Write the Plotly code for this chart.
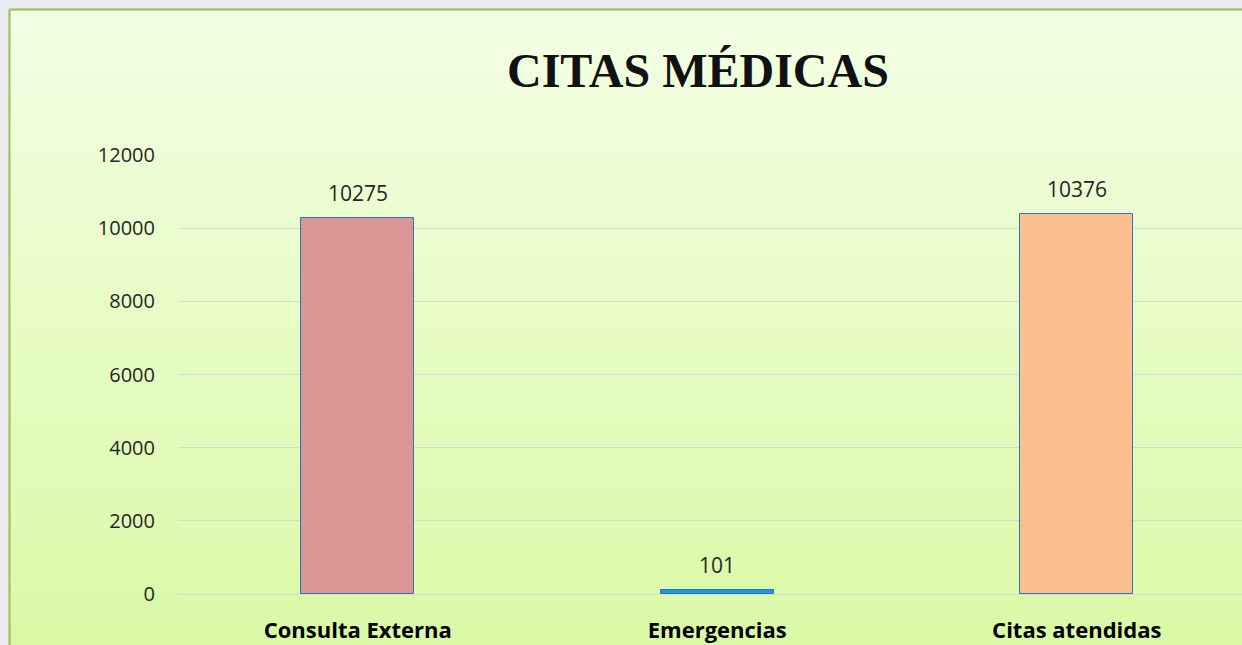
import plotly.graph_objects as go

categories = ["Consulta Externa", "Emergencias", "Citas atendidas"]
values = [10275, 101, 10376]
bar_colors = ["#d99694", "#1a9ae6", "#fac090"]
y_ticks = [0, 2000, 4000, 6000, 8000, 10000, 12000]
title_text = "CITAS MÉDICAS"

W, H = 1242, 645
L, R, T, B = 178, 0, 155, 51
pw, ph = W - L - R, H - T - B

def px_x(p):
    return (p - L) / pw

def px_y(p):
    return (H - B - p) / ph

fig = go.Figure()
fig.add_trace(go.Bar(
    x=categories, y=values,
    marker=dict(color=bar_colors, line=dict(color="#2e75b6", width=1)),
    width=0.314,
))

shapes = []
top_c = (0xf3, 0xff, 0xe4)
bot_c = (0xda, 0xf9, 0xa6)
y0p, y1p = 9, H
n = 60
for i in range(n):
    a = y0p + (y1p - y0p) * i / n
    b = y0p + (y1p - y0p) * (i + 1) / n + 1
    t = i / (n - 1)
    c = tuple(round(top_c[k] + (bot_c[k] - top_c[k]) * t) for k in range(3))
    shapes.append(dict(type="rect", xref="paper", yref="paper",
                       x0=px_x(9), x1=px_x(W + 5), y0=px_y(b), y1=px_y(a),
                       fillcolor="rgb(%d,%d,%d)" % c, line=dict(width=0), layer="below"))
shapes.append(dict(type="line", xref="paper", yref="paper", x0=px_x(9.5), x1=px_x(W + 5),
                   y0=px_y(9.5), y1=px_y(9.5), line=dict(color="#9bbb59", width=2), layer="below"))
shapes.append(dict(type="line", xref="paper", yref="paper", x0=px_x(9.5), x1=px_x(9.5),
                   y0=px_y(9.5), y1=px_y(H + 5), line=dict(color="#9bbb59", width=2), layer="below"))

annotations = []
for c, v in zip(categories, values):
    annotations.append(dict(x=c, y=v, xref="x", yref="y", text=str(v), showarrow=False,
                            yshift=25, font=dict(family="Open Sans, Noto Sans, sans-serif", size=21, color="#262626")))
annotations.append(dict(x=px_x(698), y=px_y(70), xref="paper", yref="paper", text="<b>%s</b>" % title_text,
                        showarrow=False, xanchor="center", yanchor="middle",
                        font=dict(family="Liberation Serif, serif", size=48, color="#111111")))

fig.update_layout(
    width=W, height=H,
    margin=dict(l=L, r=R, t=T, b=B, pad=0),
    paper_bgcolor="#ebebee",
    plot_bgcolor="rgba(0,0,0,0)",
    showlegend=False,
    shapes=shapes,
    annotations=annotations,
    bargap=0,
    xaxis=dict(range=[-0.5, -0.5 + pw / 359.5], showgrid=False, zeroline=False, showline=False,
               automargin=False,
               ticks="outside", ticklen=17, tickcolor="rgba(0,0,0,0)",
               tickfont=dict(family="Open Sans, Noto Sans, sans-serif", size=22, color="#000000", weight="bold")),
    yaxis=dict(range=[0, 12000], tickvals=y_ticks, tickformat="d", showgrid=True, gridcolor="#d9d9d9", gridwidth=1,
               zeroline=True, zerolinecolor="#d9d9d9", zerolinewidth=1, showline=False,
               automargin=False,
               ticks="outside", ticklen=18, tickcolor="rgba(0,0,0,0)",
               tickfont=dict(family="Open Sans, Noto Sans, sans-serif", size=20, color="#262626")),
)

fig.write_html("out.html", config={"displayModeBar": False},
               post_script="document.body.style.margin='0';document.body.style.overflow='hidden';")
